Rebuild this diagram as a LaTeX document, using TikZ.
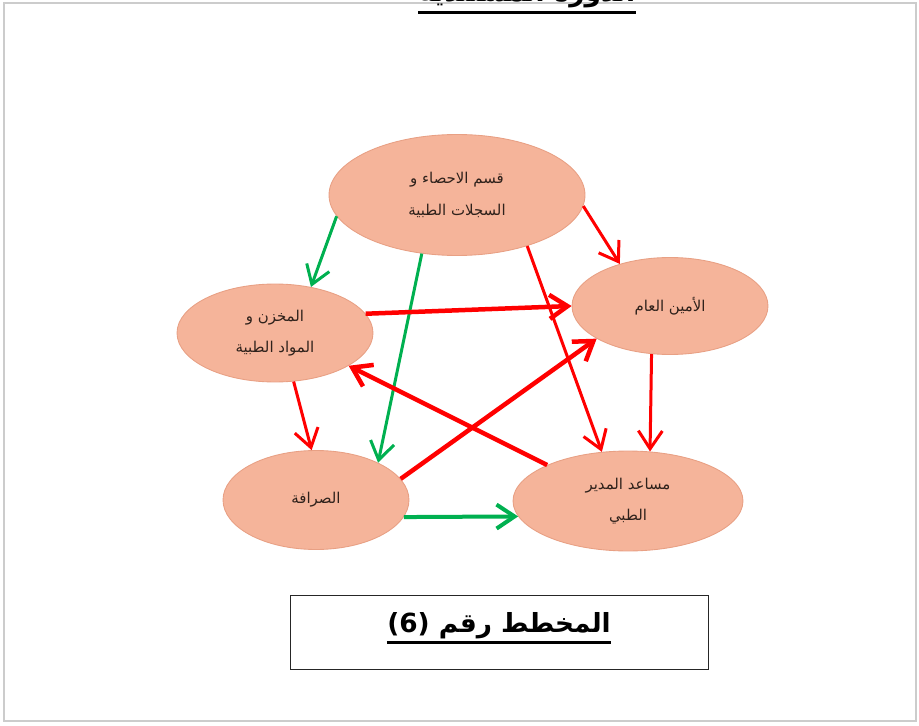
\documentclass[tikz,border=0pt]{standalone}
\usepackage{fontspec}
\setmainfont{DejaVu Sans}
\newfontfamily\arabicfont[Script=Arabic]{DejaVu Sans}
\TeXXeTstate=1
\definecolor{sSalmon}{HTML}{F5B49A}
\definecolor{sEdge}{HTML}{E8A084}
\definecolor{sRed}{HTML}{FF0000}
\definecolor{sGreen}{HTML}{00B050}
\definecolor{sInk}{HTML}{2E211B}
\usetikzlibrary{arrows.meta,shapes.geometric}

\begin{document}
\begin{tikzpicture}[x=0.02cm, y=-0.02cm,
  unit/.style={ellipse, fill=sSalmon, draw=sEdge, line width=0.5pt, inner sep=0pt, text=sInk, align=center, font=\arabicfont\fontsize{8.5}{18}\selectfont},
  gflow/.style={-{Straight Barb[length=3.6mm,width=4.8mm]}, sGreen, line width=0.6mm},
  rflow/.style={-{Straight Barb[length=3.6mm,width=4.8mm]}, sRed, line width=0.6mm},
  rflowb/.style={rflow, line width=0.9mm}]
\useasboundingbox (0,0) rectangle (919,726);
\draw[gray!40, line width=0.45mm] (4,3) rectangle (916,721);
% title, cut at the top edge
\node[font=\arabicfont\bfseries\fontsize{15}{18}\selectfont, inner sep=0pt, anchor=base] (ttl) at (527,2) {\beginR الدورة المستندية\endR};
\draw[line width=0.55mm] ([yshift=-2pt]ttl.south west) -- ([yshift=-2pt]ttl.south east);
% units
\node[unit, minimum width=5.12cm, minimum height=2.42cm] (qism) at (457,195) {\beginR قسم الاحصاء و\endR\\\beginR السجلات الطبية\endR};
\node[unit, minimum width=3.92cm, minimum height=1.96cm] (makhzan) at (275,333) {\beginR المخزن و\endR\\\beginR المواد الطبية\endR};
\node[unit, minimum width=3.92cm, minimum height=1.94cm] (amin) at (670,306) {\beginR الأمين العام\endR};
\node[unit, minimum width=3.72cm, minimum height=1.98cm] (sarrafa) at (316,500) {\beginR الصرافة\endR};
\node[unit, minimum width=4.6cm, minimum height=2.0cm] (musaid) at (628,501) {\beginR مساعد المدير\endR\\\beginR الطبي\endR};
% green flows
\draw[gflow] (qism.190) -- (makhzan.52);
\draw[gflow] (qism.239) -- (sarrafa.31);
\draw[gflow, line width=0.8mm] (sarrafa.349) -- (musaid.188);
% red flows
\draw[rflow] (qism.355) -- (amin.140);
\draw[rflow] (qism.324) -- (musaid.118);
\draw[rflowb] (makhzan.12) -- (amin.180);
\draw[rflow] (amin.249) -- (musaid.66);
\draw[rflow] (makhzan.291) -- (sarrafa.95);
\draw[rflowb] (sarrafa.14) -- (amin.204);
\draw[rflowb] (musaid.156) -- (makhzan.336);
% caption box
\node[draw=black!85, line width=0.5pt, minimum width=8.36cm, minimum height=1.48cm] (capbox) at (499,632) {};
\node[font=\arabicfont\bfseries\fontsize{15}{18}\selectfont, inner sep=0pt] (cap) at (499,626) {\beginR المخطط رقم \beginL(6)\endL\endR};
\draw[line width=0.6mm] ([yshift=-1.5pt]cap.south west) -- ([yshift=-1.5pt]cap.south east);
\end{tikzpicture}
\end{document}
